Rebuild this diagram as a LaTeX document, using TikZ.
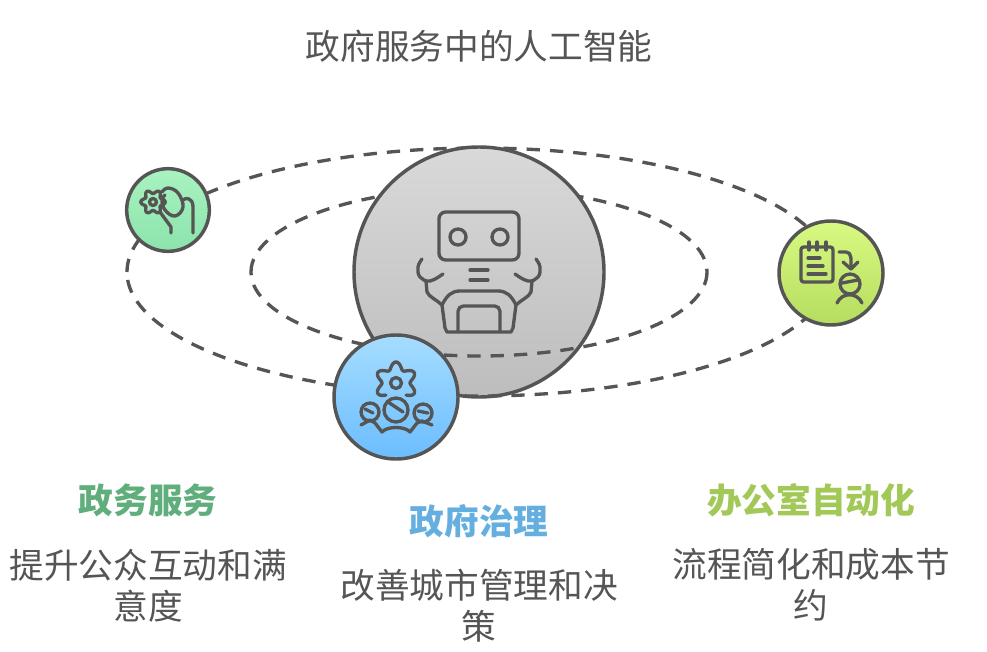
\documentclass[tikz,border=0pt]{standalone}
\usepackage{fontspec}
\setmainfont{Noto Sans CJK SC}
\definecolor{inkgrey}{HTML}{555555}
\definecolor{headgreen}{HTML}{5FAE7B}
\definecolor{headblue}{HTML}{64AFE0}
\definecolor{headlime}{HTML}{A2C957}
\definecolor{coretop}{HTML}{D9D9D9}
\definecolor{corebot}{HTML}{BDBDBD}
\definecolor{servicetop}{HTML}{A9F3C0}
\definecolor{servicebot}{HTML}{8CE3AC}
\definecolor{officetop}{HTML}{D9F982}
\definecolor{officebot}{HTML}{B5DD5E}
\definecolor{governtop}{HTML}{A6DDFF}
\definecolor{governbot}{HTML}{6BBDFF}
\tikzset{
    orb/.style={circle,draw=inkgrey,line width=2.6pt,inner sep=0pt},
    orbit/.style={draw=inkgrey,line width=2.5pt,dash pattern=on 10pt off 7.5pt},
    glyph/.style={draw=inkgrey,line width=2.5pt,line cap=round,line join=round},
    title/.style={text=inkgrey,font=\fontsize{26}{31}\selectfont},
    head/.style={font=\fontsize{26}{31}\selectfont\bfseries},
    body/.style={text=inkgrey,align=center,font=\fontsize{26}{30.75}\selectfont},
}
\begin{document}
\begin{tikzpicture}[x=0.75pt,y=-0.75pt]
    \useasboundingbox (0,0) rectangle (987,652);

    % back halves of the orbits
    \draw[orbit] (127,272) arc[start angle=180,end angle=360,x radius=352,y radius=124];
    \draw[orbit] (251,272) arc[start angle=180,end angle=360,x radius=228,y radius=84];

    \node[orb,minimum size=187.5pt,top color=coretop,bottom color=corebot] at (479,272) (core) {};

    % front halves of the orbits
    \draw[orbit] (831,272) arc[start angle=0,end angle=180,x radius=352,y radius=124];
    \draw[orbit] (707,272) arc[start angle=0,end angle=180,x radius=228,y radius=84];

    \node[orb,minimum size=62pt,top color=servicetop,bottom color=servicebot] at (168,210) (service) {};
    \node[orb,minimum size=78pt,top color=officetop,bottom color=officebot] at (831,273) (office) {};
    \node[orb,minimum size=93pt,top color=governtop,bottom color=governbot] at (396,397) (govern) {};

    % robot
    \draw[glyph,rounded corners=5pt] (439,212) rectangle (519,260);
    \foreach \x in {458,500} \draw[glyph] (\x,237) circle (8);
    \foreach \y in {270,280} \draw[glyph] (470,\y) -- (488,\y);
    \foreach \s in {1,-1} {
        \begin{scope}[shift={(479,0)},xscale=\s]
            \draw[glyph] plot[smooth,tension=.7] coordinates {(-57,259) (-61,267) (-59,277) (-49,281) (-36,274)};
            \draw[glyph] (-53,281) -- (-52,292) .. controls (-50,297) and (-42,300) .. (-37,305);
        \end{scope}
    }
    \draw[glyph] (442,305) .. controls (447,295) and (452,291) .. (460,291) -- (498,291)
        .. controls (506,291) and (511,295) .. (516,305) -- (513,328) -- (511,332) -- (447,332) -- (445,328) -- cycle;
    \draw[glyph,rounded corners=4pt] (458,332) -- (458,306) -- (500,306) -- (500,332);

    % hand with gear
    \draw[glyph] plot[smooth cycle,samples=72,domain=0:355] ({153+(10.3+1.9*cos(6*\x))*cos(\x)},{202+(10.3+1.9*cos(6*\x))*sin(\x)});
    \draw[glyph] (153,202) circle (3.5);
    \draw[glyph] (160,212) -- (171,227) -- (171,233);
    \draw[glyph] plot[smooth,tension=.7] coordinates {(162,192) (168,188) (178,193) (183,207) (175,216) (165,210) (162,200) (165,195)};
    \draw[glyph] (183,200) .. controls (186,197) and (193,198) .. (193,207) -- (193,233);

    % notebook and person
    \draw[glyph,rounded corners=2pt] (801,247) rectangle (833,282);
    \foreach \x in {809,817,826} \draw[glyph] (\x,242) -- (\x,250);
    \draw[glyph] (808,258) -- (820,258);
    \draw[glyph] (808,266) -- (823,266);
    \draw[glyph] (808,274) -- (826,274);
    \draw[glyph] (839,252) -- (846,252) .. controls (852,252) and (851,260) .. (851,269);
    \draw[glyph] (843,262) -- (851,269) -- (858,262);
    \draw[glyph] (850,284) circle (10);
    \draw[glyph] (842,283) -- (858,280);
    \draw[glyph] (837,303) .. controls (842,292) and (857,292) .. (862,303);

    % gear and people
    \draw[glyph] plot[smooth,samples=70,domain=130:410] ({396+(17.5+3.5*cos(6*(\x-90)))*cos(\x)},{383+(17.5+3.5*cos(6*(\x-90)))*sin(\x)});
    \draw[glyph] (396,383) circle (5.5);
    \draw[glyph] (370,412) circle (9);
    \draw[glyph] (396,410) circle (12);
    \draw[glyph] (423,413) circle (9);
    \draw[glyph] (365,409) -- (373,413);
    \draw[glyph] (388,402) -- (403,412);
    \draw[glyph] (418,411) -- (428,413);
    \draw[glyph] (361,425) -- (370,420) -- (375,423) -- (382,432) .. controls (387,426) and (405,426) .. (410,432) -- (417,423) -- (422,421) -- (432,425);

    \node[title] at (479,46) (caption) {政府服务中的人工智能};
    \node[head,text=headgreen] at (148,500) (servicehead) {政务服务};
    \node[head,text=headblue] at (479,521) (governhead) {政府治理};
    \node[head,text=headlime] at (811,500) (officehead) {办公室自动化};
    \node[body] at (148,586) (servicebody) {提升公众互动和满\\意度};
    \node[body] at (479,606) (governbody) {改善城市管理和决\\策};
    \node[body] at (811,585) (officebody) {流程简化和成本节\\约};
\end{tikzpicture}
\end{document}
